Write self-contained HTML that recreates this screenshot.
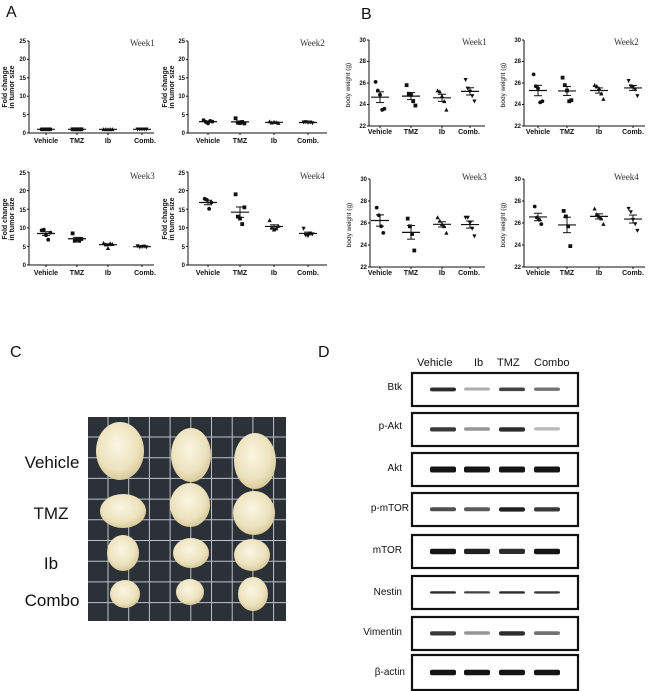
<!DOCTYPE html>
<html><head><meta charset="utf-8">
<style>
html,body{margin:0;padding:0;background:#fff;}
svg{display:block;}
.tk{font:bold 6px "Liberation Sans",sans-serif;fill:#111;}
.xl{font:bold 7px "Liberation Sans",sans-serif;fill:#111;}
.wk{font:9px "Liberation Serif",serif;fill:#333;}
.yl{font:bold 7px "Liberation Sans",sans-serif;fill:#111;}
.yl2{font:6.5px "Liberation Sans",sans-serif;fill:#111;}
.pl{font:17px "Liberation Sans",sans-serif;fill:#111;}
.bl{font:10px "Liberation Sans",sans-serif;fill:#111;}
.hd{font:11px "Liberation Sans",sans-serif;fill:#111;}
.big{font:16px "Liberation Sans",sans-serif;fill:#111;}
</style></head><body>
<svg id="s" width="650" height="691" viewBox="0 0 650 691" xmlns="http://www.w3.org/2000/svg">
<defs>
<radialGradient id="tg" cx="45%" cy="40%" r="60%"><stop offset="0" stop-color="#fbf6e2"/><stop offset="0.7" stop-color="#ece2bd"/><stop offset="1" stop-color="#d8ca9c"/></radialGradient>
</defs>
<!-- panel letters -->
<text class="big" x="6" y="17">A</text>
<text class="big" x="361" y="19">B</text>
<text class="big" x="10" y="357">C</text>
<text class="big" x="318" y="357">D</text>

<!-- Panel A static text -->
<g class="tk" text-anchor="end">
<text x="26" y="135">0</text><text x="26" y="117">5</text><text x="26" y="98">10</text><text x="26" y="80">15</text><text x="26" y="61">20</text><text x="26" y="43">25</text>
<text x="185" y="135">0</text><text x="185" y="117">5</text><text x="185" y="98">10</text><text x="185" y="80">15</text><text x="185" y="61">20</text><text x="185" y="43">25</text>
<text x="26" y="267">0</text><text x="26" y="249">5</text><text x="26" y="230">10</text><text x="26" y="212">15</text><text x="26" y="193">20</text><text x="26" y="175">25</text>
<text x="185" y="267">0</text><text x="185" y="249">5</text><text x="185" y="230">10</text><text x="185" y="212">15</text><text x="185" y="193">20</text><text x="185" y="175">25</text>
</g>
<g class="xl" text-anchor="middle">
<text x="46" y="143">Vehicle</text><text x="77" y="143">TMZ</text><text x="108" y="143">Ib</text><text x="145" y="143">Comb.</text>
<text x="208" y="143">Vehicle</text><text x="240" y="143">TMZ</text><text x="274" y="143">Ib</text><text x="308" y="143">Comb.</text>
<text x="46" y="275">Vehicle</text><text x="77" y="275">TMZ</text><text x="108" y="275">Ib</text><text x="145" y="275">Comb.</text>
<text x="208" y="275">Vehicle</text><text x="240" y="275">TMZ</text><text x="274" y="275">Ib</text><text x="308" y="275">Comb.</text>
</g>
<g class="wk">
<text x="130" y="46">Week1</text><text x="300" y="46">Week2</text>
<text x="130" y="179">Week3</text><text x="300" y="179">Week4</text>
</g>
<g class="yl" text-anchor="middle">
<text transform="translate(7,87) rotate(-90)">Fold change</text><text transform="translate(14,87) rotate(-90)">in tumor size</text>
<text transform="translate(167,87) rotate(-90)">Fold change</text><text transform="translate(174,87) rotate(-90)">in tumor size</text>
<text transform="translate(7,219) rotate(-90)">Fold change</text><text transform="translate(14,219) rotate(-90)">in tumor size</text>
<text transform="translate(167,219) rotate(-90)">Fold change</text><text transform="translate(174,219) rotate(-90)">in tumor size</text>
</g>

<!-- Panel B static text -->
<g class="tk" text-anchor="end">
<text x="366" y="128">22</text><text x="366" y="106">24</text><text x="366" y="85">26</text><text x="366" y="63">28</text><text x="366" y="42">30</text>
<text x="521" y="128">22</text><text x="521" y="106">24</text><text x="521" y="85">26</text><text x="521" y="63">28</text><text x="521" y="42">30</text>
<text x="367" y="269">22</text><text x="367" y="247">24</text><text x="367" y="225">26</text><text x="367" y="203">28</text><text x="367" y="181">30</text>
<text x="521" y="269">22</text><text x="521" y="247">24</text><text x="521" y="225">26</text><text x="521" y="203">28</text><text x="521" y="181">30</text>
</g>
<g class="xl" text-anchor="middle">
<text x="380" y="134">Vehicle</text><text x="411" y="134">TMZ</text><text x="442" y="134">Ib</text><text x="469" y="134">Comb.</text>
<text x="538" y="134">Vehicle</text><text x="567" y="134">TMZ</text><text x="599" y="134">Ib</text><text x="633" y="134">Comb.</text>
<text x="380" y="275">Vehicle</text><text x="411" y="275">TMZ</text><text x="442" y="275">Ib</text><text x="469" y="275">Comb.</text>
<text x="538" y="275">Vehicle</text><text x="567" y="275">TMZ</text><text x="599" y="275">Ib</text><text x="633" y="275">Comb.</text>
</g>
<g class="wk">
<text x="462" y="45">Week1</text><text x="614" y="45">Week2</text>
<text x="462" y="180">Week3</text><text x="614" y="180">Week4</text>
</g>
<g class="yl2" text-anchor="middle">
<text transform="translate(350,85) rotate(-90)">body weight (g)</text>
<text transform="translate(505,85) rotate(-90)">body weight (g)</text>
<text transform="translate(351,225) rotate(-90)">body weight (g)</text>
<text transform="translate(505,225) rotate(-90)">body weight (g)</text>
</g>

<!-- Panel C photo -->
<rect x="88" y="417" width="198" height="204" fill="#2c3037"/>
<g id="grid" stroke="#d8dce2" stroke-width="1" opacity="0.85"></g>
<g id="tum"></g>
<g class="pl" text-anchor="middle">
<text x="52" y="468">Vehicle</text>
<text x="51" y="519">TMZ</text>
<text x="51" y="569">Ib</text>
<text x="52" y="606">Combo</text>
</g>

<!-- Panel D -->
<g class="hd">
<text x="417" y="366">Vehicle</text><text x="474" y="366">Ib</text><text x="497" y="366">TMZ</text><text x="534" y="366">Combo</text>
</g>
<g id="blot"></g>
<g class="bl" text-anchor="end">
<text x="402" y="390">Btk</text>
<text x="402" y="429">p-Akt</text>
<text x="402" y="471">Akt</text>
<text x="409" y="511">p-mTOR</text>
<text x="402" y="553">mTOR</text>
<text x="402" y="595">Nestin</text>
<text x="402" y="635">Vimentin</text>
<text x="405" y="675">β-actin</text>
</g>
<g id="plots"></g>
</svg>
<script>
var NS="http://www.w3.org/2000/svg";
function el(p,t,a){var e=document.createElementNS(NS,t);for(var k in a)e.setAttribute(k,a[k]);p.appendChild(e);return e;}
var P=document.getElementById("plots");
function plot(ax,xEnd,yb,yt,lo,hi,ticks,cats,data){
  el(P,"line",{x1:ax,y1:yt,x2:ax,y2:yb,stroke:"#111","stroke-width":1});
  el(P,"line",{x1:ax,y1:yb,x2:xEnd,y2:yb,stroke:"#111","stroke-width":1});
  var sy=function(v){return yb-(v-lo)/(hi-lo)*(yb-yt);};
  ticks.forEach(function(t){el(P,"line",{x1:ax-2,y1:sy(t),x2:ax,y2:sy(t),stroke:"#111","stroke-width":1});});
  cats.forEach(function(c){el(P,"line",{x1:c,y1:yb,x2:c,y2:yb+2,stroke:"#111","stroke-width":1});});
  data.forEach(function(pts,i){
    var c=cats[i],n=pts.length,m=0;pts.forEach(function(v){m+=v;});m/=n;
    var s=0;pts.forEach(function(v){s+=(v-m)*(v-m);});var se=Math.sqrt(s/(n-1))/Math.sqrt(n);
    pts.forEach(function(v,j){
      var x=c+(j-(n-1)/2)*2.2, y=sy(v);
      if(i==0) el(P,"circle",{cx:x,cy:y,r:1.9,fill:"#111"});
      else if(i==1) el(P,"rect",{x:x-1.9,y:y-1.9,width:3.8,height:3.8,fill:"#111"});
      else if(i==2) el(P,"polygon",{points:(x-2.1)+","+(y+1.8)+" "+(x+2.1)+","+(y+1.8)+" "+x+","+(y-2.2),fill:"#111"});
      else el(P,"polygon",{points:(x-2.1)+","+(y-1.8)+" "+(x+2.1)+","+(y-1.8)+" "+x+","+(y+2.2),fill:"#111"});
    });
    var ym=sy(m),y1=sy(m+se),y2=sy(m-se);
    el(P,"line",{x1:c-9,y1:ym,x2:c+9,y2:ym,stroke:"#111","stroke-width":1.2});
    el(P,"line",{x1:c,y1:y1,x2:c,y2:y2,stroke:"#111","stroke-width":1});
    el(P,"line",{x1:c-4,y1:y1,x2:c+4,y2:y1,stroke:"#111","stroke-width":1});
    el(P,"line",{x1:c-4,y1:y2,x2:c+4,y2:y2,stroke:"#111","stroke-width":1});
  });
}
var tA=[0,5,10,15,20,25],tB=[22,24,26,28,30];
var cA1=[46,77,108,142],cA2=[208,240,274,308],cB1=[380,411,442,470],cB2=[538,567,599,633];
plot(29,154,133,41,0,25,tA,cA1,[[1,1,1,1,1],[1,1,1,1,1],[1,1,1,1,1],[1,1,1,1,1]]);
plot(188,327,133,41,0,25,tA,cA2,[[3.5,3.0,2.6,3.3,3.1],[4.0,2.8,2.7,3.0,2.6],[3.1,2.8,3.0,2.9,2.7],[2.9,3.0,2.8,2.9,2.7]]);
plot(29,154,265,172,0,25,tA,cA1,[[9.3,9.5,8.0,6.8,8.7],[8.5,6.5,6.8,6.5,7.0],[5.9,5.5,4.5,5.8,5.6],[5.1,4.8,4.9,5.0,4.8]]);
plot(188,327,265,172,0,25,tA,cA2,[[17.8,17.5,15.1,16.8],[19.0,13.0,12.5,11.0,15.5],[12.0,10.0,9.5,9.8,10.5],[9.8,8.0,7.8,8.5,8.3]]);
plot(369,485,126,40,22,30,tB,cB1,[[26.1,25.3,24.9,23.5,23.6],[25.8,25.0,24.9,24.3,23.9],[25.3,25.2,24.8,24.3,23.5],[26.3,25.5,25.2,24.8,24.3]]);
plot(524,645,126,40,22,30,tB,cB2,[[26.8,25.7,25.5,24.2,24.3],[26.5,25.8,25.3,24.3,24.4],[25.8,25.7,25.5,25.0,24.5],[26.2,25.7,25.6,25.4,24.8]]);
plot(370,485,267,179,22,30,tB,cB1,[[27.4,26.7,25.7,25.1],[26.4,25.7,25.0,23.5],[26.5,26.2,25.9,25.7,25.1],[26.5,26.5,26.0,25.5,24.8]]);
plot(524,645,267,179,22,30,tB,cB2,[[27.5,26.5,26.3,25.9],[27.1,26.6,25.7,23.9],[27.3,26.8,26.6,26.4,25.9],[27.3,27.0,26.3,25.9,25.3]]);

// photo grid
var G=document.getElementById("grid");
for(var x=108;x<286;x+=20.7)el(G,"line",{x1:x,y1:417,x2:x,y2:621});
for(var y=437;y<621;y+=20.7)el(G,"line",{x1:88,y1:y,x2:286,y2:y});
var T=document.getElementById("tum");
[[120,451,24,29],[191,455,20,27],[255,461,21,28],[123,511,23,17],[190,505,20,22],[254,513,21,22],
 [123,553,16,18],[191,553,18,15],[252,555,18,16],[125,594,15,14],[190,592,14,13],[253,594,15,17]].forEach(function(t){
  el(T,"ellipse",{cx:t[0],cy:t[1],rx:t[2],ry:t[3],fill:"url(#tg)"});
});

// blots
var B=document.getElementById("blot");
var tops=[372,412,452,492,534,575,616,654];
var lanes=[443,477,512,547];
var inten=[[.9,.35,.8,.6],[.85,.45,.9,.3],[1,1,1,1],[.75,.7,.95,.85],[1,.95,.9,1],[.9,.8,.9,.85],[.85,.45,.9,.6],[1,1,1,1]];
var hts=[4,4.5,6,4.5,5.5,2.5,4.5,5.5];
tops.forEach(function(t,i){
  var h=(i==7)?37:35;
  el(B,"rect",{x:412,y:t+1,width:166,height:h-2,fill:"#fff",stroke:"#111","stroke-width":2.2});
  lanes.forEach(function(c,j){
    var v=inten[i][j],g=Math.round(255*(1-v*0.92));
    el(B,"rect",{x:c-13,y:t+h/2-hts[i]/2,width:26,height:hts[i]*(0.6+0.4*v),rx:2,fill:"rgb("+g+","+g+","+g+")"});
  });
});
</script>
</body></html>
